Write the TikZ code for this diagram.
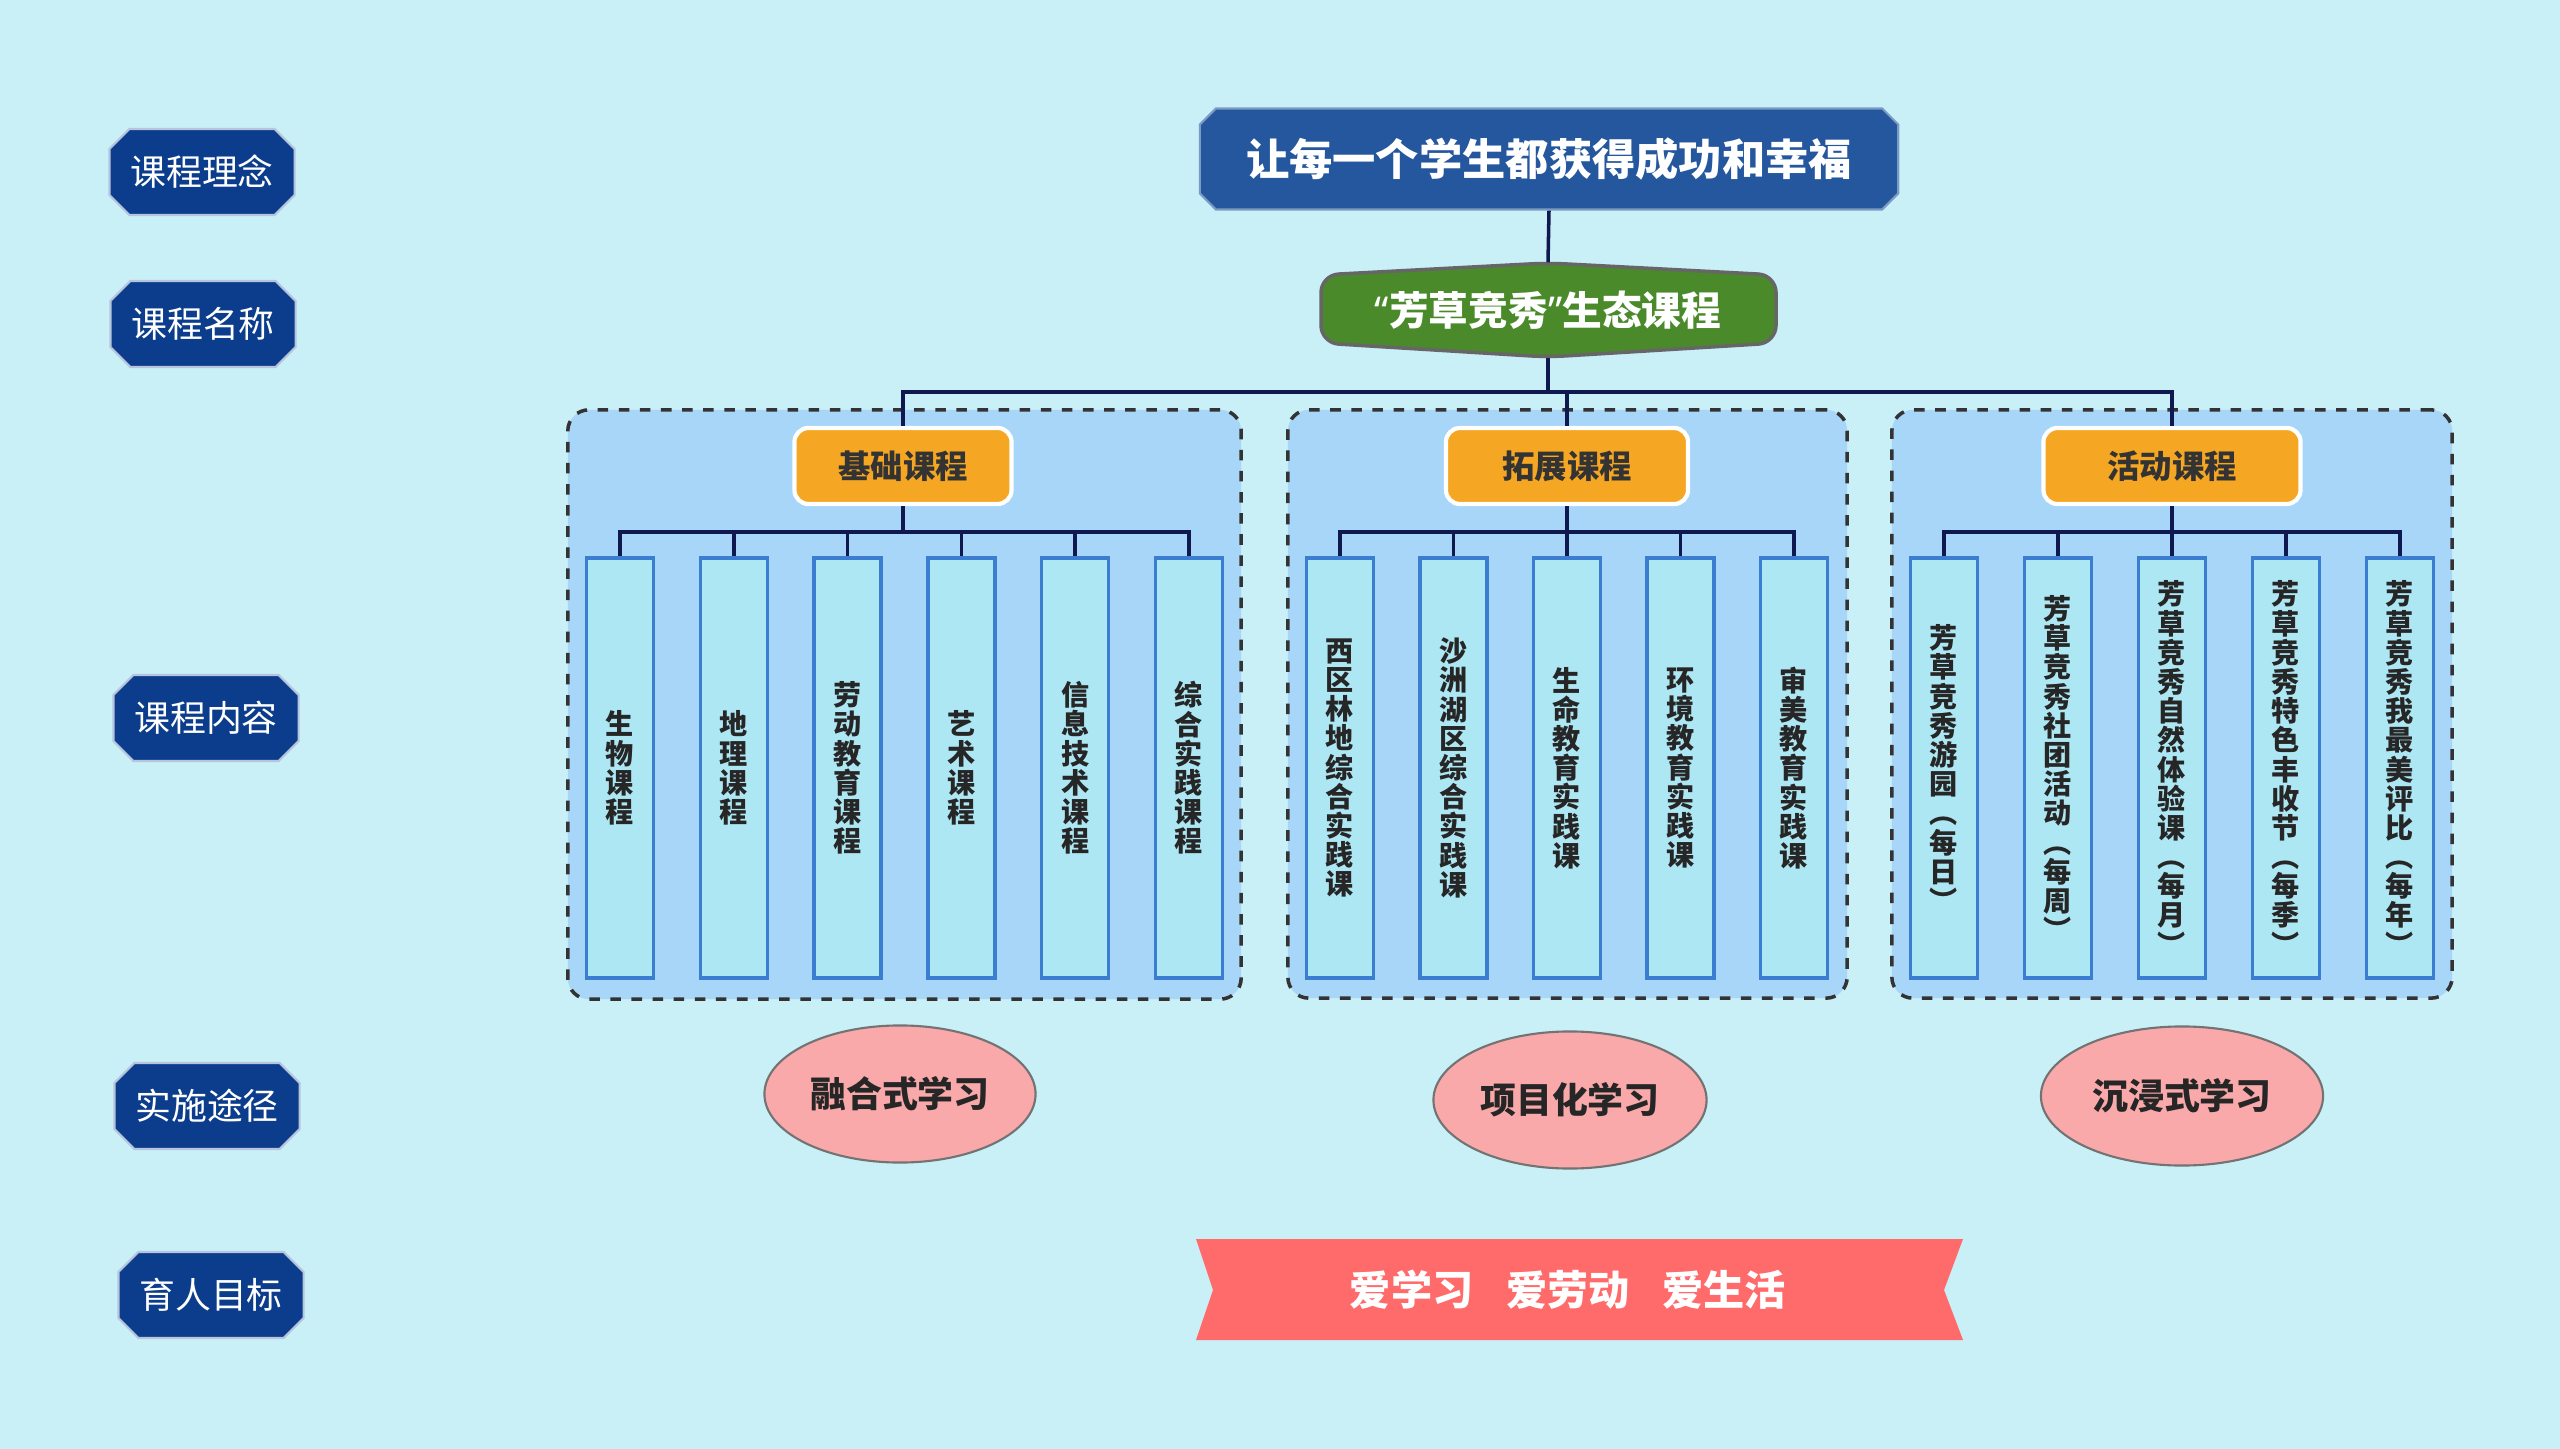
\documentclass[tikz,border=0pt]{standalone}
\usepackage{fontspec}
\setmainfont{Noto Sans CJK SC}
\newfontfamily\latinquote{Noto Sans}
\usepackage{tikz}
\usetikzlibrary{positioning,shapes.misc,shapes.geometric}
\definecolor{bgcyan}{HTML}{C9EFF7}
\definecolor{rownavy}{HTML}{0C3D8C}
\definecolor{titleblue}{HTML}{24579D}
\definecolor{ecogreen}{HTML}{4B8A2B}
\definecolor{groupfill}{HTML}{A8D6F8}
\definecolor{tagorange}{HTML}{F5A623}
\definecolor{itemfill}{HTML}{AEE7F4}
\definecolor{itemedge}{HTML}{3B7DD0}
\definecolor{waypink}{HTML}{F9A9AA}
\definecolor{goalred}{HTML}{FF6B6B}
\definecolor{linknavy}{HTML}{101850}
\tikzset{
rowlabel/.style={chamfered rectangle,chamfered rectangle xsep=.1cm,chamfered rectangle ysep=.1cm,fill=rownavy,draw=white!70!rownavy,line width=.6pt,text=white,minimum width=1.85cm,minimum height=.86cm,inner sep=0pt,font=\fontsize{10.2}{12}\selectfont},
titlebox/.style={chamfered rectangle,chamfered rectangle xsep=.08cm,chamfered rectangle ysep=.08cm,fill=titleblue,draw=white!40!titleblue,line width=.6pt,text=white,minimum width=6.98cm,minimum height=1.01cm,inner sep=0pt,font=\bfseries\fontsize{12.3}{14}\selectfont},
ecotext/.style={text=white,minimum width=4.55cm,minimum height=.94cm,inner sep=0pt,font=\bfseries\fontsize{11.3}{13}\selectfont},
groupbox/.style={draw=black!80,dashed,line width=1pt,rounded corners=6pt,fill=groupfill,inner sep=0pt},
tagbox/.style={draw=white,line width=1.2pt,rounded corners=4pt,fill=tagorange,text=black!80,minimum height=.76cm,inner sep=0pt,font=\bfseries\fontsize{9.2}{11}\selectfont},
itembox/.style={draw=itemedge,line width=1pt,fill=itemfill,minimum width=.67cm,minimum height=4.2cm,inner sep=0pt,align=center,text=black!85,font=\bfseries\fontsize{8}{8.3}\selectfont},
way/.style={ellipse,draw=black!55,line width=.6pt,fill=waypink,inner sep=0pt,text=black!85,font=\bfseries\fontsize{10.2}{12}\selectfont},
goaltext/.style={text=white,inner sep=0pt,font=\bfseries\fontsize{11.7}{13}\selectfont},
link/.style={draw=linknavy,line width=1pt}
}

\begin{document}
\begin{tikzpicture}[x=0.01cm,y=-0.01cm]
\fill[bgcyan] (0,0) rectangle (2560,1449);
\useasboundingbox (0,0) rectangle (2560,1449);

% row labels on the left
\node[rowlabel] (lbidea) at (202,172) {课程理念};
\node[rowlabel] (lbname) at (203,324) {课程名称};
\node[rowlabel] (lbcontent) at (206,718) {课程内容};
\node[rowlabel] (lbway) at (207,1106) {实施途径};
\node[rowlabel] (lbgoal) at (211,1295) {育人目标};

% idea and course name
\node[titlebox] (idea) at (1549,159) {让每一个学生都获得成功和幸福};
\fill[ecogreen,draw=black!60,line width=1pt,rounded corners=5pt]
  (1321,275) -- (1548,263) -- (1776,275) -- (1776,343) -- (1548,357) -- (1321,343) -- cycle;
\node[ecotext] (eco) at (1548,310) {{\latinquote\bfseries “}芳草竞秀{\latinquote\bfseries ”}生态课程};

% three groups
\node[groupbox,minimum width=6.73cm,minimum height=5.89cm] (g1) at (904.5,704.5) {};
\node[groupbox,minimum width=5.59cm,minimum height=5.88cm] (g2) at (1567.5,704) {};
\node[groupbox,minimum width=5.60cm,minimum height=5.88cm] (g3) at (2172,704) {};

\node[tagbox,minimum width=2.17cm] (base) at (903,466) {基础课程};
\node[tagbox,minimum width=2.42cm] (extend) at (1567,466) {拓展课程};
\node[tagbox,minimum width=2.57cm] (activity) at (2172,466) {活动课程};

\foreach \t [count=\i] in {{生\\物\\课\\程},{地\\理\\课\\程},{劳\\动\\教\\育\\课\\程},{艺\\术\\课\\程},{信\\息\\技\\术\\课\\程},{综\\合\\实\\践\\课\\程}}
  \node[itembox] (b1-\i) at ({620+113.8*(\i-1)},768) {\t};
\foreach \t [count=\i] in {{西\\区\\林\\地\\综\\合\\实\\践\\课},{沙\\洲\\湖\\区\\综\\合\\实\\践\\课},{生\\命\\教\\育\\实\\践\\课},{环\\境\\教\\育\\实\\践\\课},{审\\美\\教\\育\\实\\践\\课}}
  \node[itembox] (b2-\i) at ({1340+113.5*(\i-1)},768) {\t};
\foreach \t [count=\i] in {{芳\\草\\竞\\秀\\游\\园\\︵\\每\\日\\︶},{芳\\草\\竞\\秀\\社\\团\\活\\动\\︵\\每\\周\\︶},{芳\\草\\竞\\秀\\自\\然\\体\\验\\课\\︵\\每\\月\\︶},{芳\\草\\竞\\秀\\特\\色\\丰\\收\\节\\︵\\每\\季\\︶},{芳\\草\\竞\\秀\\我\\最\\美\\评\\比\\︵\\每\\年\\︶}}
  \node[itembox] (b3-\i) at ({1944+114*(\i-1)},768) {\t};

% connectors
\coordinate (trunk) at (1548,392);
\coordinate (bus1) at (903,532);
\coordinate (bus2) at (1567,532);
\coordinate (bus3) at (2172,532);
\draw[link] (idea.south) -- (eco.north);
\draw[link] (eco.south) -- (trunk) -| (base.north);
\draw[link] (trunk) -| (extend.north);
\draw[link] (trunk) -| (activity.north);
\draw[link] (base.south) -- (bus1);
\draw[link] (extend.south) -- (bus2);
\draw[link] (activity.south) -- (bus3);
\foreach \i in {1,...,6} \draw[link] (bus1) -| (b1-\i.north);
\foreach \i in {1,...,5} \draw[link] (bus2) -| (b2-\i.north);
\foreach \i in {1,...,5} \draw[link] (bus3) -| (b3-\i.north);

% ways of teaching
\node[way,minimum width=2.71cm,minimum height=1.37cm] (w1) at (900,1094) {融合式学习};
\node[way,minimum width=2.73cm,minimum height=1.37cm] (w2) at (1570,1100) {项目化学习};
\node[way,minimum width=2.82cm,minimum height=1.39cm] (w3) at (2182,1096) {沉浸式学习};

% goal ribbon
\fill[goalred] (1196,1239) -- (1963,1239) -- (1944,1290) -- (1963,1340) -- (1196,1340) -- (1213,1290) -- cycle;
\node[goaltext] (goal) at (1568,1290) {爱学习\hspace{.8em}爱劳动\hspace{.8em}爱生活};
\end{tikzpicture}
\end{document}
